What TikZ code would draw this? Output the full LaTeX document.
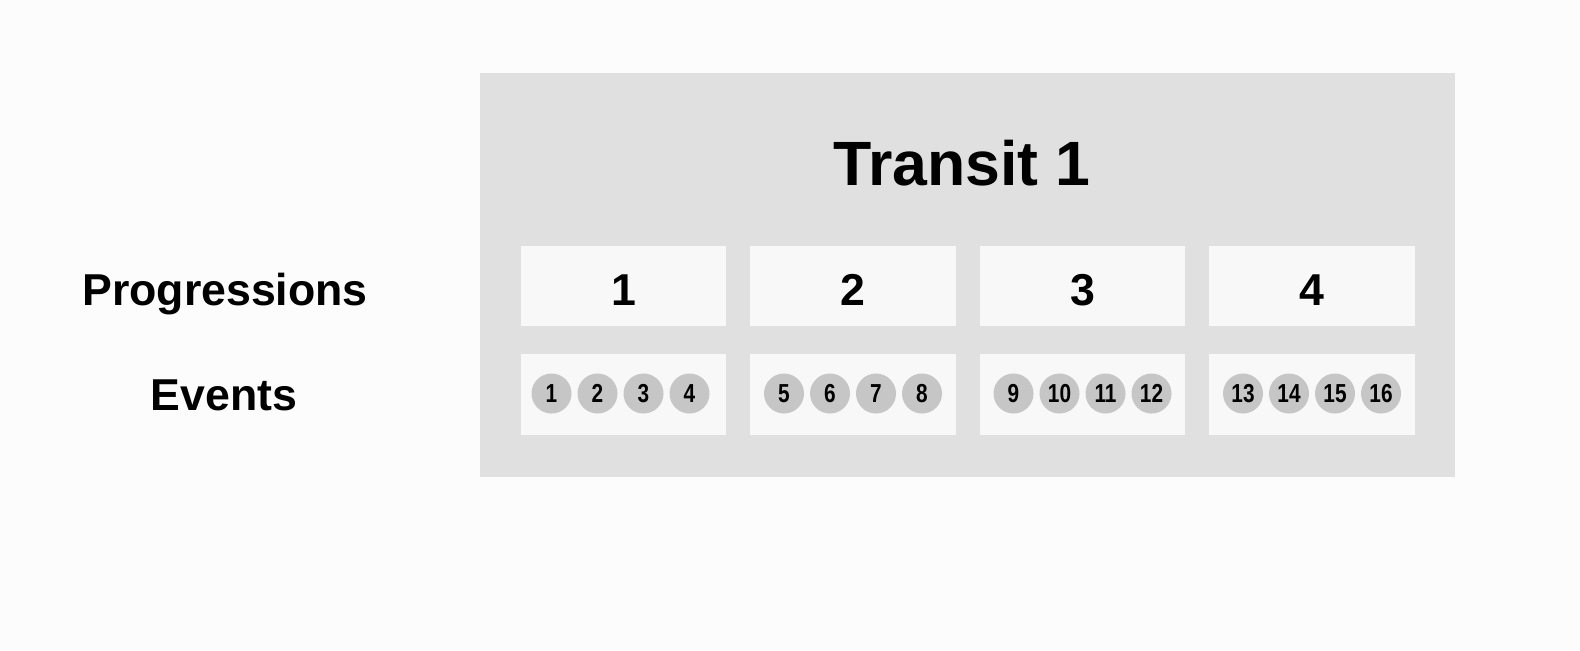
\documentclass[tikz,border=0pt]{standalone}
\usepackage{fontspec}
\setmainfont{Liberation Sans}
\newfontfamily\narrowfont[FakeStretch=0.8]{Liberation Sans}
\usetikzlibrary{calc}
\definecolor{pagebg}{HTML}{FCFCFC}
\definecolor{transitgray}{HTML}{E0E0E0}
\definecolor{cellgray}{HTML}{F8F8F8}
\definecolor{eventgray}{HTML}{C6C6C6}
\tikzset{
  cell/.style={fill=cellgray, minimum width=2.05cm, minimum height=0.8cm, inner sep=0pt},
  cellnum/.style={font=\bfseries\fontsize{12.7}{15}\selectfont, yshift=-0.04cm},
  event/.style={circle, fill=eventgray, minimum size=0.4cm, inner sep=0pt,
    font=\narrowfont\bfseries\fontsize{7.4}{9}\selectfont},
  rowlabel/.style={anchor=base, font=\bfseries\fontsize{12.7}{15}\selectfont}
}
\begin{document}
\begin{tikzpicture}[x=0.01cm, y=-0.01cm]
\fill[pagebg](0,0)rectangle(1580,650);
\node[fill=transitgray, minimum width=9.75cm, minimum height=4.04cm, inner sep=0pt](transit) at (967.5,275){};
\node[anchor=base, font=\bfseries\fontsize{17.8}{21}\selectfont](title) at (962,185){Transit 1};
\node[rowlabel](proglabel) at (225,305){Progressions};
\node[rowlabel](eventlabel) at (224,410){Events};
% progressions and their events
\foreach \i in {1,...,4}{
  \node[cell, label={[cellnum]center:\i}](prog\i) at ({623.5+229.5*(\i-1)},286){};
  \node[cell, minimum height=0.81cm](evbox\i) at ({623.5+229.5*(\i-1)},394.5){};
  \pgfmathsetmacro{\off}{\i==1 ? -3 : 0}
  \foreach \j in {1,...,4}{
    \pgfmathtruncatemacro{\n}{4*(\i-1)+\j}
    \node[event](ev\n) at ($(evbox\i.center)+({(\j-2.5)*46+\off},-1)$){\n};
  }
}
\end{tikzpicture}
\end{document}
